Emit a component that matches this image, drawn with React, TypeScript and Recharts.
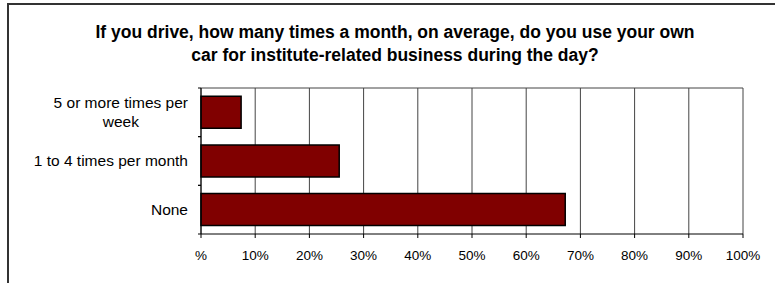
import React from 'react';
import { BarChart, Bar, XAxis, YAxis, CartesianGrid } from 'recharts';

const categories = ['5 or more times per week', '1 to 4 times per month', 'None'];
const shares = [7.4, 25.5, 67.2];
const xTicks = [0, 10, 20, 30, 40, 50, 60, 70, 80, 90, 100];
const labelLines: Record<string, string[]> = {
  '5 or more times per week': ['5 or more times per', 'week'],
};

const data = categories.map((name, i) => ({ name, value: shares[i] }));

const FONT = 'Arial, "Liberation Sans", sans-serif';
const PLOT_LEFT = 201;
const LABEL_RIGHT = 188;
const LABEL_SIZE = 15.5;

const measure = (txt: string, font: string) => {
  const c = document.createElement('canvas').getContext('2d');
  if (!c) return txt.length * 7;
  c.font = font;
  return c.measureText(txt).width;
};

const CategoryTick = (props: any) => {
  const { y, payload } = props;
  const band = (234 - 88) / categories.length;
  const lines = labelLines[payload.value] || [payload.value];
  const font = `${LABEL_SIZE}px ${FONT}`;
  const widths = lines.map((l) => measure(l, font));
  const maxW = Math.max(...widths);
  const cx = LABEL_RIGHT - maxW / 2;
  const lh = 19;
  const startY = y - ((lines.length - 1) * lh) / 2;
  return (
    <g>
      <line x1={PLOT_LEFT - 3} x2={PLOT_LEFT} y1={y - band / 2} y2={y - band / 2} stroke="#000" />
      <line x1={PLOT_LEFT - 3} x2={PLOT_LEFT} y1={y + band / 2} y2={y + band / 2} stroke="#000" />
      {lines.map((l, i) => (
        <text
          key={i}
          x={lines.length > 1 ? cx : LABEL_RIGHT}
          y={startY + i * lh}
          dy="0.35em"
          textAnchor={lines.length > 1 ? 'middle' : 'end'}
          fontSize={LABEL_SIZE}
          fontFamily={FONT}
          fill="#000"
        >
          {l}
        </text>
      ))}
    </g>
  );
};

export default function App() {
  return (
    <div style={{ position: 'absolute', left: 0, top: 0, width: 775, height: 283, overflow: 'hidden', background: '#fff' }}>
      <div
        style={{
          position: 'absolute',
          left: 7,
          top: 3,
          width: 800,
          height: 300,
          borderLeft: '2px solid #333',
          borderTop: '2px solid #333',
        }}
      />
      <div
        style={{
          position: 'absolute',
          left: 0,
          width: 790,
          top: 21,
          textAlign: 'center',
          fontFamily: FONT,
          fontWeight: 'bold',
          fontSize: 17.5,
          lineHeight: '23px',
          color: '#000',
        }}
      >
        If you drive, how many times a month, on average, do you use your own
        <br />
        car for institute-related business during the day?
      </div>
      <div style={{ position: 'absolute', left: 0, top: 0 }}>
        <BarChart
          width={775}
          height={283}
          data={data}
          layout="vertical"
          margin={{ top: 88, right: 32, bottom: 0, left: 0 }}
          barCategoryGap="17%"
        >
          <CartesianGrid
            stroke="#444"
            vertical
            horizontal
            verticalCoordinatesGenerator={({ offset }: any) =>
              xTicks.map((t) => offset.left + (t / 100) * offset.width)
            }
            horizontalCoordinatesGenerator={({ offset }: any) => [offset.top]}
          />
          <XAxis
            type="number"
            domain={[0, 100]}
            ticks={xTicks}
            tickFormatter={(v: number) => (v === 0 ? '%' : `${v}%`)}
            axisLine={{ stroke: '#000' }}
            tickLine={{ stroke: '#000' }}
            tickSize={4}
            tickMargin={12}
            height={49}
            tick={{ fontSize: 13.5, fontFamily: FONT, fill: '#000' }}
            interval={0}
          />
          <YAxis
            type="category"
            dataKey="name"
            width={PLOT_LEFT}
            axisLine={{ stroke: '#000' }}
            tickLine={false}
            tick={<CategoryTick />}
            interval={0}
          />
          <Bar dataKey="value" fill="#800000" stroke="#000" strokeWidth={1.5} isAnimationActive={false} />
        </BarChart>
      </div>
    </div>
  );
}
